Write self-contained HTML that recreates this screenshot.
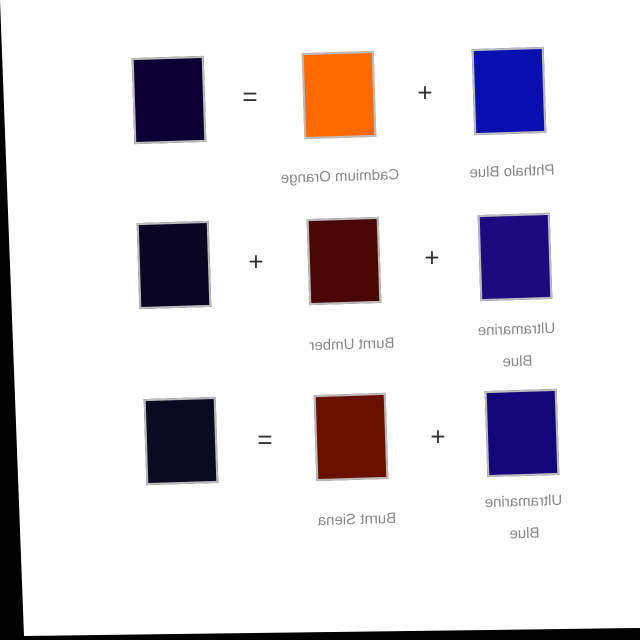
<!DOCTYPE html>
<html><head><meta charset="utf-8"><style>
html,body{margin:0;padding:0}
body{width:640px;height:640px;background:#000;position:relative;overflow:hidden;font-family:"Liberation Sans",sans-serif}
#page{position:absolute;left:0;top:0;width:640px;height:640px;background:#fff;clip-path:polygon(0 0,640px 0,640px 628px,24px 636px)}
.sw{position:absolute;width:72px;height:86px;border:2px solid #bbb;transform:rotate(-1.8deg);box-sizing:border-box}
.op{position:absolute;font-size:26px;color:#333;transform:translate(-50%,-50%)}
.lb{position:absolute;font-size:15px;color:#888;transform:translate(-50%,-50%) scaleX(-1) rotate(1.8deg);white-space:nowrap;text-align:center;line-height:32px}
</style></head><body>
<div id="page">
<div class="sw" style="left:133px;top:57px;background:#0a0033"></div>
<div class="op" style="left:250px;top:97px">=</div>
<div class="sw" style="left:303px;top:52px;background:#ff6a00"></div>
<div class="op" style="left:425px;top:93px">+</div>
<div class="sw" style="left:473px;top:48px;background:#0a0fb0"></div>
<div class="lb" style="left:340px;top:177px">Cadmium Orange</div>
<div class="lb" style="left:512px;top:172px">Phthalo Blue</div>

<div class="sw" style="left:138px;top:222px;background:#0a0520"></div>
<div class="op" style="left:256px;top:262px">+</div>
<div class="sw" style="left:308px;top:218px;background:#4a0505"></div>
<div class="op" style="left:432px;top:258px">+</div>
<div class="sw" style="left:479px;top:214px;background:#1e0a80"></div>
<div class="lb" style="left:352px;top:345px">Burnt Umber</div>
<div class="lb" style="left:517px;top:346px">Ultramarine<br>Blue</div>

<div class="sw" style="left:145px;top:398px;background:#0a0a20"></div>
<div class="op" style="left:265px;top:440px">=</div>
<div class="sw" style="left:315px;top:394px;background:#6a1000"></div>
<div class="op" style="left:438px;top:437px">+</div>
<div class="sw" style="left:486px;top:390px;background:#15057a"></div>
<div class="lb" style="left:357px;top:520px">Burnt Siena</div>
<div class="lb" style="left:524px;top:518px">Ultramarine<br>Blue</div>
</div>
</body></html>
